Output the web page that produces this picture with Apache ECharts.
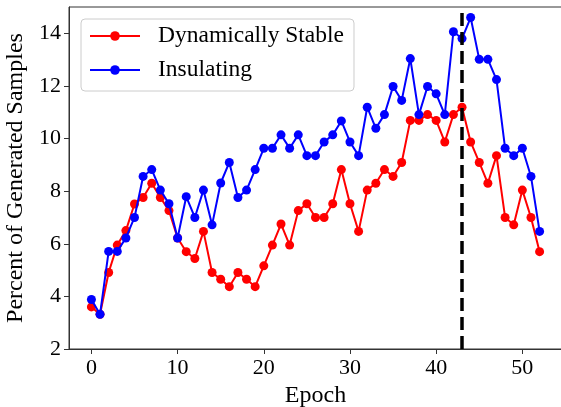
<!DOCTYPE html>
<html>
<head>
<meta charset="utf-8">
<script src="https://cdn.jsdelivr.net/npm/echarts@6/dist/echarts.min.js"></script>
<style>
  html, body { margin: 0; padding: 0; background: #fff; }
  #chart { width: 561px; height: 407px; }
</style>
</head>
<body>
<div id="chart"></div>
<script>
// values
const epochs = Array.from({ length: 53 }, (_, i) => i);
const stable = [3.6, 3.32, 4.91, 5.95, 6.5, 7.51, 7.76, 8.3, 7.76, 7.26,
  6.22, 5.7, 5.44, 6.47, 4.91, 4.65, 4.37, 4.91, 4.65, 4.37,
  5.16, 5.95, 6.75, 5.95, 7.26, 7.52, 7.0, 7.0, 7.52, 8.82,
  7.52, 6.47, 8.04, 8.3, 8.82, 8.56, 9.09, 10.69, 10.69, 10.91,
  10.69, 9.87, 10.91, 11.19, 9.87, 9.09, 8.3, 9.35, 7.0, 6.72,
  8.04, 7.0, 5.7];
const insulating = [3.88, 3.32, 5.71, 5.71, 6.22, 7.0, 8.56, 8.82, 8.04, 7.52,
  6.22, 7.79, 7.0, 8.04, 6.72, 8.31, 9.09, 7.76, 8.04, 8.82,
  9.63, 9.63, 10.14, 9.63, 10.14, 9.35, 9.35, 9.87, 10.14, 10.67,
  9.87, 9.35, 11.19, 10.39, 10.91, 11.98, 11.45, 13.04, 10.91, 11.98,
  11.7, 10.91, 14.06, 13.8, 14.6, 13.01, 13.01, 12.24, 9.63, 9.35,
  9.63, 8.56, 6.47];
const xTicks = [0, 10, 20, 30, 40, 50];
const yTicks = [2, 4, 6, 8, 10, 12, 14];
const markEpoch = 43;

const font = 'Liberation Serif, Times New Roman, serif';

function pairs(ys) {
  return ys.map((v, i) => [epochs[i], v]);
}

const chart = echarts.init(document.getElementById('chart'), null, { renderer: 'canvas' });

const options = {
  animation: false,
  textStyle: { fontFamily: font },
  grid: {
    left: 69,
    right: -1,
    top: 7,
    bottom: 58,
    outerBoundsMode: 'none',
    containLabel: false,
    show: true,
    borderColor: '#333',
    borderWidth: 1,
    backgroundColor: 'transparent'
  },
  legend: {
    orient: 'vertical',
    left: 81,
    top: 19,
    padding: [5, 10, 9, 8],
    itemGap: 10,
    itemWidth: 50,
    itemHeight: 12,
    borderColor: '#cccccc',
    borderWidth: 1,
    borderRadius: 4,
    textStyle: { fontFamily: font, fontSize: 23.5, color: '#000', padding: [0, 0, 0, 13] },
    data: ['Dynamically Stable', 'Insulating']
  },
  xAxis: {
    type: 'value',
    min: -2.6,
    max: 54.6,
    name: 'Epoch',
    nameLocation: 'middle',
    nameGap: 32,
    nameTextStyle: { fontFamily: font, fontSize: 24, color: '#000' },
    axisLine: { show: true, onZero: false, lineStyle: { color: '#333', width: 1 } },
    axisTick: { show: true, length: 5, lineStyle: { color: '#333' }, customValues: xTicks },
    axisLabel: { fontFamily: font, fontSize: 22, color: '#000', margin: 8, customValues: xTicks },
    splitLine: { show: false }
  },
  yAxis: {
    type: 'value',
    min: 2,
    max: 15,
    name: 'Percent of Generated Samples',
    nameLocation: 'middle',
    nameGap: 33,
    nameTextStyle: { fontFamily: font, fontSize: 24, color: '#000' },
    axisLine: { show: true, onZero: false, lineStyle: { color: '#333', width: 1 } },
    axisTick: { show: true, length: 5, lineStyle: { color: '#333' }, customValues: yTicks },
    axisLabel: { fontFamily: font, fontSize: 22, color: '#000', margin: 8, customValues: yTicks },
    splitLine: { show: false }
  },
  series: [
    {
      name: 'Dynamically Stable',
      type: 'line',
      data: pairs(stable),
      color: '#ff0000',
      symbol: 'circle',
      symbolSize: 9,
      lineStyle: { width: 2, color: '#ff0000' },
      itemStyle: { color: '#ff0000' },
      z: 2
    },
    {
      name: 'Insulating',
      type: 'line',
      data: pairs(insulating),
      color: '#0000ff',
      symbol: 'circle',
      symbolSize: 9,
      lineStyle: { width: 2, color: '#0000ff' },
      itemStyle: { color: '#0000ff' },
      z: 3,
      markLine: {
        silent: true,
        symbol: 'none',
        label: { show: false },
        lineStyle: { color: '#000', width: 3.5, type: [13, 6] },
        data: [{ xAxis: markEpoch }],
        z: 5
      }
    }
  ]
};

chart.setOption(options);
</script>
</body>
</html>
